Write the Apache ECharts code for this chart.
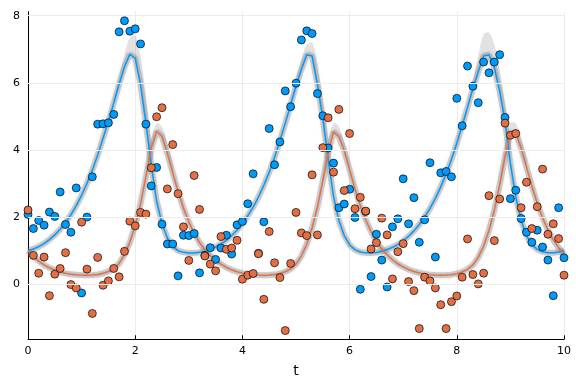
<!DOCTYPE html>
<html><head><meta charset="utf-8">
<script src="https://cdn.jsdelivr.net/npm/echarts@6/dist/echarts.min.js"></script>
<style>html,body{margin:0;padding:0;background:#fff}#c{width:576px;height:384px}</style>
</head><body><div id="c"></div>
<script>
const tGrid = [0,0.1,0.2,0.3,0.4,0.5,0.6,0.7,0.8,0.9,1,1.1,1.2,1.3,1.4,1.5,1.6,1.7,1.8,1.9,2,2.1,2.2,2.3,2.4,2.5,2.6,2.7,2.8,2.9,3,3.1,3.2,3.3,3.4,3.5,3.6,3.7,3.8,3.9,4,4.1,4.2,4.3,4.4,4.5,4.6,4.7,4.8,4.9,5,5.1,5.2,5.3,5.4,5.5,5.6,5.7,5.8,5.9,6,6.1,6.2,6.3,6.4,6.5,6.6,6.7,6.8,6.9,7,7.1,7.2,7.3,7.4,7.5,7.6,7.7,7.8,7.9,8,8.1,8.2,8.3,8.4,8.5,8.6,8.7,8.8,8.9,9,9.1,9.2,9.3,9.4,9.5,9.6,9.7,9.8,9.9,10];

const preyObs = [2.08,1.66,1.90,1.76,2.15,2.02,2.75,1.78,1.55,2.87,
 -0.26,2.00,3.20,4.77,4.78,4.81,5.06,7.52,7.85,7.54,
 7.61,7.16,4.77,2.93,3.48,1.79,1.20,1.20,0.25,1.46,
 1.45,1.51,0.34,0.86,1.09,0.74,1.08,1.46,0.90,1.77,
 1.87,2.40,3.29,0.92,1.86,4.64,3.56,4.24,5.76,5.29,
 5.99,7.28,7.55,7.47,5.68,5.02,4.06,3.61,2.28,2.39,
 2.83,1.99,-0.15,2.17,0.23,1.49,0.72,-0.08,1.71,1.95,
 3.14,1.80,2.58,1.25,1.92,3.62,0.81,3.32,3.36,3.20,
 5.54,4.72,6.50,5.90,5.41,6.62,6.30,6.62,6.84,4.97,
 2.55,2.80,1.96,1.55,1.25,1.61,1.11,0.72,-0.34,2.28,
 0.79];

const predObs = [2.21,0.86,0.33,0.81,-0.34,0.30,0.47,0.94,-0.01,-0.11,
 1.85,0.45,-0.87,0.80,-0.03,0.10,0.47,0.22,0.98,1.88,
 1.74,2.14,2.09,3.47,4.99,5.26,2.84,4.16,2.70,1.71,
 0.71,3.24,2.23,0.84,0.60,0.40,1.42,1.04,1.08,1.31,
 0.15,0.27,0.32,0.91,-0.45,1.57,0.64,0.20,-1.38,0.62,
 2.14,1.53,1.45,3.26,1.47,4.07,4.96,3.34,5.21,2.79,
 4.49,2.25,2.59,2.18,1.05,1.24,1.97,1.47,0.16,0.97,
 1.21,0.08,-0.19,-1.32,0.21,0.10,-0.11,-0.61,-1.32,-0.52,
 -0.35,0.21,1.35,0.29,0.01,0.33,2.64,1.30,2.54,4.80,
 4.44,4.49,2.28,3.04,1.66,2.31,3.43,1.49,1.80,1.36,
 0.27];

const preyFit = [1.00,1.05,1.12,1.21,1.33,1.47,1.64,1.84,2.07,2.34,
 2.65,3.00,3.40,3.85,4.35,4.85,5.40,5.96,6.48,6.85,
 6.74,5.95,4.80,3.55,2.48,1.80,1.38,1.12,1.00,0.95,
 0.93,0.93,0.95,0.99,1.04,1.11,1.20,1.31,1.45,1.61,
 1.81,2.04,2.30,2.60,2.95,3.34,3.78,4.28,4.80,5.35,
 5.90,6.40,6.84,6.80,5.95,4.95,3.72,2.62,1.90,1.45,
 1.17,1.03,0.96,0.935,0.93,0.947,0.984,1.035,1.10,1.18,
 1.29,1.43,1.59,1.78,2.00,2.26,2.56,2.90,3.28,3.72,
 4.20,4.72,5.27,5.82,6.33,6.80,6.84,6.45,5.75,4.85,
 3.60,2.60,1.90,1.45,1.18,1.04,0.97,0.94,0.94,0.96,
 1.00];

const predFit = [1.00,0.83,0.69,0.58,0.49,0.42,0.365,0.325,0.297,0.28,
 0.272,0.27,0.275,0.29,0.325,0.38,0.47,0.62,0.88,1.25,
 1.75,2.40,3.20,4.05,4.55,4.40,3.90,3.32,2.76,2.27,
 1.86,1.52,1.24,1.02,0.855,0.71,0.60,0.50,0.43,0.373,
 0.331,0.301,0.283,0.273,0.27,0.274,0.288,0.32,0.372,0.457,
 0.60,0.84,1.19,1.675,2.30,3.08,3.92,4.54,4.40,3.975,
 3.41,2.84,2.34,1.92,1.57,1.28,1.05,0.88,0.73,0.61,
 0.52,0.44,0.38,0.337,0.305,0.285,0.274,0.271,0.274,0.286,
 0.315,0.364,0.443,0.575,0.80,1.14,1.60,2.21,2.96,3.80,
 4.50,4.50,4.05,3.49,2.93,2.42,1.98,1.62,1.32,1.09,
 0.89];

// upper edge of the posterior-sample spread around each peak: [t, value]
const preyFanTop = [
  [[1.6,5.55],[1.7,6.2],[1.8,6.85],[1.9,7.35],[2.0,7.4],[2.1,6.8],[2.2,5.6],[2.3,4.1]],
  [[4.9,5.45],[5.0,6.1],[5.1,6.7],[5.2,7.15],[5.3,7.2],[5.4,6.6],[5.5,5.5],[5.6,4.2]],
  [[8.2,5.4],[8.3,6.05],[8.4,6.8],[8.5,7.45],[8.6,7.5],[8.7,7.15],[8.8,6.4],[8.9,5.4],[9.0,4.1]]
];
const predFanTop = [
  [[2.2,3.4],[2.3,4.3],[2.4,4.8],[2.5,4.7],[2.6,4.2],[2.7,3.55]],
  [[5.5,3.3],[5.6,4.2],[5.7,4.8],[5.8,4.7],[5.9,4.25],[6.0,3.6]],
  [[8.8,3.15],[8.9,4.05],[9.0,4.8],[9.1,4.8],[9.2,4.35],[9.3,3.7]]
];

const xTicks = [0,2,4,6,8,10];
const yTicks = [0,2,4,6,8];

const BLUE = '#009AFA', ORANGE = '#E36F47';
const pair = arr => tGrid.map((t, i) => [t, arr[i]]);
const font = 'DejaVu Sans';

function fanSeries(fans, fit) {
  return {
    type: 'custom', silent: true, z: 1,
    data: fans.map((_, i) => i),
    renderItem: function (params, api) {
      const win = fans[api.value(0)];
      const top = win.map(p => api.coord([p[0], p[1]]));
      const bottom = win.slice().reverse().map(p => api.coord([p[0], fit[Math.round(p[0] * 10)]]));
      return {
        type: 'polygon',
        shape: {points: top.concat(bottom), smooth: 0.3},
        style: {fill: 'rgba(150,150,150,0.28)', stroke: 'none'}
      };
    }
  };
}

const chart = echarts.init(document.getElementById('c'), null, {renderer: 'canvas'});
const bandStyle = {width: 6, color: 'rgba(140,140,140,0.38)', shadowBlur: 3, shadowColor: 'rgba(140,140,140,0.5)'};
chart.setOption({
  animation: false,
  backgroundColor: '#fff',
  grid: {left: 28, right: 12, top: 11.7, bottom: 44.7, containLabel: false},
  xAxis: {
    type: 'value', min: 0, max: 10, interval: 2,
    name: 't', nameLocation: 'middle', nameGap: 25,
    nameTextStyle: {fontFamily: font, fontSize: 14, color: '#000'},
    axisLine: {onZero: false, lineStyle: {color: '#000', width: 1}},
    axisTick: {inside: true, length: 4, lineStyle: {color: '#000'}},
    axisLabel: {fontFamily: font, fontSize: 11, color: '#000', margin: 6},
    splitLine: {show: true, lineStyle: {color: '#ececec', width: 1}}
  },
  yAxis: {
    type: 'value', min: -1.64, max: 8.12,
    axisLine: {show: true, onZero: false, lineStyle: {color: '#000', width: 1}},
    axisTick: {show: true, inside: true, length: 4, customValues: yTicks, lineStyle: {color: '#000'}},
    axisLabel: {fontFamily: font, fontSize: 11, color: '#000', margin: 8, customValues: yTicks},
    splitLine: {show: false}
  },
  series: [
    {type: 'line', data: pair(preyFit), showSymbol: false, silent: true, z: 1, lineStyle: bandStyle,
     markLine: {silent: true, symbol: ['none','none'], label: {show: false},
       lineStyle: {color: '#ececec', width: 1, type: 'solid'},
       data: yTicks.map(v => ({yAxis: v}))}},
    {type: 'line', data: pair(predFit), showSymbol: false, silent: true, z: 1, lineStyle: bandStyle},
    fanSeries(preyFanTop, preyFit),
    fanSeries(predFanTop, predFit),
    {type: 'line', data: pair(preyFit), showSymbol: false, z: 2, lineStyle: {color: BLUE, width: 1.5}},
    {type: 'line', data: pair(predFit), showSymbol: false, z: 2, lineStyle: {color: ORANGE, width: 1.5}},
    {type: 'scatter', data: pair(preyObs), symbolSize: 8, z: 3,
     itemStyle: {color: BLUE, borderColor: 'rgba(0,0,0,0.85)', borderWidth: 0.8, opacity: 1}},
    {type: 'scatter', data: pair(predObs), symbolSize: 8, z: 4,
     itemStyle: {color: ORANGE, borderColor: 'rgba(0,0,0,0.85)', borderWidth: 0.8, opacity: 1}}
  ]
});
</script>
</body></html>
